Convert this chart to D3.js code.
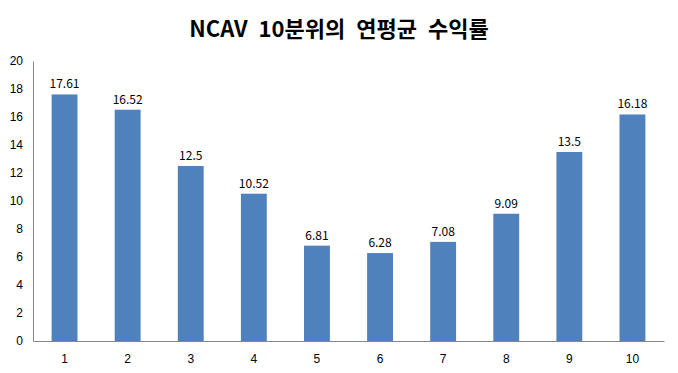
<!DOCTYPE html>
<html>
<head>
<meta charset="utf-8">
<script src="https://cdn.jsdelivr.net/npm/d3@7"></script>
<style>
  body { margin: 0; background: #fff; }
  svg { font-family: "Noto Sans CJK KR", "Noto Sans", sans-serif; }
</style>
</head>
<body>
<svg width="678" height="373"></svg>
<script>
const deciles = ["1", "2", "3", "4", "5", "6", "7", "8", "9", "10"];
const returns = [17.61, 16.52, 12.5, 10.52, 6.81, 6.28, 7.08, 9.09, 13.5, 16.18];
const yTicks = [0, 2, 4, 6, 8, 10, 12, 14, 16, 18, 20];

var svg = d3.select("svg");

var x = d3.scaleBand().domain(deciles).range([33, 664]).paddingInner(0.59).paddingOuter(0.295);
var y = d3.scaleLinear().domain([0, 20]).range([341, 61]);

svg.append("text")
    .attr("x", 339).attr("y", 37)
    .attr("text-anchor", "middle")
    .style("font-size", "22px").style("font-weight", "bold")
    .style("word-spacing", "6px")
    .text("NCAV 10분위의 연평균 수익률");

var yAxis = svg.append("g")
    .attr("transform", "translate(33,0)")
    .call(d3.axisLeft(y).tickValues(yTicks).tickSize(0).tickPadding(10));
yAxis.select(".domain").attr("stroke", "#868686");
yAxis.selectAll("text").style("font-size", "12px").attr("fill", "#000");

var xAxis = svg.append("g")
    .attr("transform", "translate(0,341)")
    .call(d3.axisBottom(x).tickSize(0).tickPadding(13).tickSizeOuter(0));
xAxis.select(".domain").attr("stroke", "#868686");
xAxis.selectAll("text").style("font-size", "12px").attr("fill", "#000");

svg.selectAll("rect.bar")
    .data(returns)
    .enter().append("rect")
    .attr("class", "bar")
    .attr("x", (d, i) => x(deciles[i]))
    .attr("width", x.bandwidth())
    .attr("y", d => y(d))
    .attr("height", d => y(0) - y(d))
    .attr("fill", "#4F81BD");

svg.selectAll("text.val")
    .data(returns)
    .enter().append("text")
    .attr("class", "val")
    .attr("x", (d, i) => x(deciles[i]) + x.bandwidth() / 2)
    .attr("y", d => y(d) - 6)
    .attr("text-anchor", "middle")
    .style("font-size", "12px")
    .text(d => d);
</script>
</body>
</html>
